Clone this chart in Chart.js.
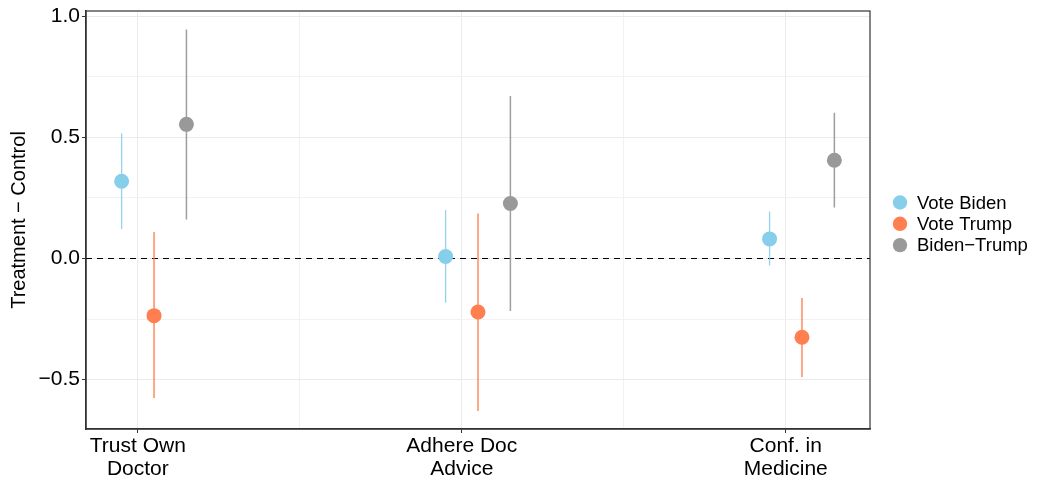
<!DOCTYPE html>
<html>
<head>
<meta charset="utf-8">
<script src="https://cdn.jsdelivr.net/npm/chart.js@4.4.1/dist/chart.umd.min.js"></script>
<style>
  html, body { margin: 0; padding: 0; background: #fff; }
  #wrap { width: 1039px; height: 477px; }
</style>
</head>
<body>
<div id="wrap"><canvas id="chart" width="1039" height="477"></canvas></div>
<script>
// categories (x axis), one label per line
const categories = [['Trust Own', 'Doctor'], ['Adhere Doc', 'Advice'], ['Conf. in', 'Medicine']];
const seriesNames = ['Vote Biden', 'Vote Trump', 'Biden\u2212Trump'];

// estimates and interval ends
const bidenEst = [0.319, 0.008, 0.081];
const bidenLo  = [0.122, -0.183, -0.029];
const bidenHi  = [0.517, 0.200, 0.194];

const trumpEst = [-0.236, -0.221, -0.325];
const trumpLo  = [-0.576, -0.630, -0.489];
const trumpHi  = [0.109, 0.186, -0.163];

const diffEst = [0.554, 0.227, 0.406];
const diffLo  = [0.161, -0.217, 0.211];
const diffHi  = [0.946, 0.671, 0.602];

const yTicks = [-0.5, -0.25, 0, 0.25, 0.5, 0.75, 1.0];
const xTicks = [1, 1.5, 2, 2.5, 3];

// styling
const dodge = [-0.05, 0.05, 0.15];
const pointColors = ['#87CEEB', '#FF7F50', '#999999'];
const lineColors = ['rgba(135,206,235,0.9)', 'rgba(255,127,80,0.85)', 'rgba(153,153,153,0.95)'];
const lineWidths = [1.3, 1.6, 1.5];
const FONT = "'Liberation Sans', Arial, Helvetica, sans-serif";

const est = [bidenEst, trumpEst, diffEst];
const lo = [bidenLo, trumpLo, diffLo];
const hi = [bidenHi, trumpHi, diffHi];

const xMin = 0.84, xMax = 3.26;

const isMajorY = v => Math.abs(v * 2 - Math.round(v * 2)) < 1e-9;

var datasets = [];

// zero reference line
datasets.push({
  type: 'line',
  data: [{x: xMin, y: 0}, {x: xMax, y: 0}],
  borderColor: '#000',
  borderWidth: 1.2,
  borderDash: [6, 5],
  pointRadius: 0,
  order: 10
});

seriesNames.forEach((name, s) => {
  // interval segments, broken with nulls
  let seg = [];
  categories.forEach((c, i) => {
    let x = i + 1 + dodge[s];
    seg.push({x: x, y: lo[s][i]});
    seg.push({x: x, y: hi[s][i]});
    seg.push({x: x, y: null});
  });
  datasets.push({
    type: 'line',
    data: seg,
    borderColor: lineColors[s],
    borderWidth: lineWidths[s],
    pointRadius: 0,
    spanGaps: false,
    order: 5
  });
  datasets.push({
    type: 'scatter',
    label: name,
    data: categories.map((c, i) => ({x: i + 1 + dodge[s], y: est[s][i]})),
    backgroundColor: pointColors[s],
    borderWidth: 0,
    pointRadius: 7.5,
    order: 0
  });
});

const frame = {
  id: 'frame',
  afterDraw(chart) {
    const ctx = chart.ctx, a = chart.chartArea;
    ctx.save();
    ctx.strokeStyle = '#333';
    ctx.lineWidth = 1.2;
    ctx.strokeRect(a.left, a.top, a.right - a.left, a.bottom - a.top);
    // legend
    ctx.font = '18.5px ' + FONT;
    ctx.textBaseline = 'middle';
    ctx.textAlign = 'left';
    seriesNames.forEach((name, s) => {
      let y = 202.5 + s * 21.3;
      ctx.beginPath();
      ctx.fillStyle = pointColors[s];
      ctx.arc(900, y, 7.2, 0, Math.PI * 2);
      ctx.fill();
      ctx.fillStyle = '#000';
      ctx.fillText(name, 917, y + 1);
    });
    ctx.restore();
  }
};

const c = document.getElementById('chart');
const chart = new Chart(c, {
  type: 'scatter',
  data: { datasets: datasets },
  plugins: [frame],
  options: {
    responsive: false,
    animation: false,
    layout: { padding: { left: 0, right: 169, top: 11, bottom: 0 } },
    plugins: { legend: { display: false }, tooltip: { enabled: false } },
    scales: {
      x: {
        type: 'linear',
        min: xMin,
        max: xMax,
        afterBuildTicks: s => { s.ticks = xTicks.map(v => ({value: v})); },
        afterFit: s => { s.height = 48; s.paddingLeft = 0; s.paddingRight = 0; },
        ticks: {
          autoSkip: false,
          maxRotation: 0,
          padding: 1,
          color: '#000',
          font: { family: FONT, size: 21, lineHeight: 1.13 },
          callback: v => Number.isInteger(v) ? categories[v - 1] : ''
        },
        grid: {
          color: ctx => (ctx.tick && Number.isInteger(ctx.tick.value)) ? '#EBEBEB' : '#F2F2F2',
          lineWidth: 1,
          tickLength: 4,
          tickColor: ctx => (ctx.tick && Number.isInteger(ctx.tick.value)) ? '#333' : 'rgba(0,0,0,0)'
        },
        border: { color: '#333', width: 1.5 }
      },
      y: {
        min: -0.704,
        max: 1.022,
        afterBuildTicks: s => { s.ticks = yTicks.map(v => ({value: v})); },
        afterFit: s => { s.width = 86; s.paddingTop = 0; s.paddingBottom = 0; },
        ticks: {
          padding: 2,
          color: '#000',
          font: { family: FONT, size: 21 },
          callback: v => isMajorY(v) ? (v < 0 ? '\u2212' : '') + Math.abs(v).toFixed(1) : ''
        },
        grid: {
          color: ctx => (ctx.tick && isMajorY(ctx.tick.value)) ? '#EBEBEB' : '#F2F2F2',
          lineWidth: 1,
          tickLength: 4,
          tickColor: ctx => (ctx.tick && isMajorY(ctx.tick.value)) ? '#333' : 'rgba(0,0,0,0)'
        },
        border: { color: '#333', width: 1.5 },
        title: {
          display: true,
          text: 'Treatment \u2212 Control',
          color: '#000',
          font: { family: FONT, size: 20 },
          padding: { top: 7, bottom: 0 }
        }
      }
    }
  }
});
</script>
</body>
</html>
